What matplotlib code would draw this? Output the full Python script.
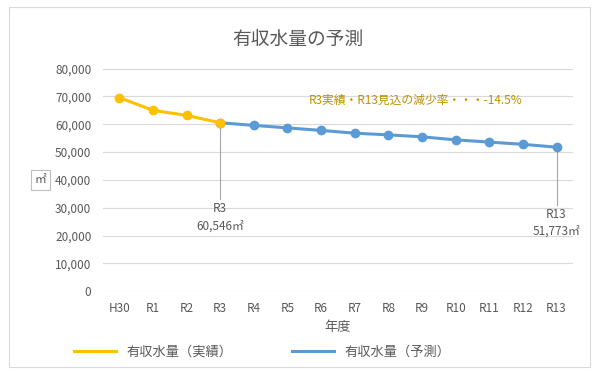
import matplotlib
matplotlib.use("Agg")
import matplotlib.pyplot as plt
from matplotlib.patches import Rectangle
from matplotlib.lines import Line2D

plt.rcParams['font.family'] = ['Noto Sans CJK JP', 'DejaVu Sans']

years = ["H30", "R1", "R2", "R3", "R4", "R5", "R6", "R7", "R8", "R9", "R10", "R11", "R12", "R13"]
actual = [69600, 65000, 63200, 60546]
forecast = [60546, 59600, 58700, 57800, 56800, 56200, 55500, 54400, 53600, 52800, 51773]

x_act = list(range(len(actual)))
x_fc = list(range(3, 3 + len(forecast)))

grey = "#595959"
yellow = "#FFC000"
blue = "#5B9BD5"

fig = plt.figure(figsize=(5.96, 3.71), dpi=100)
ax = fig.add_axes([0.172, 0.215, 0.79, 0.60])

ax.plot(x_fc, forecast, color=blue, lw=2.2, marker="o", ms=6, zorder=3)
ax.plot(x_act, actual, color=yellow, lw=2.2, marker="o", ms=6, zorder=4)

ax.set_ylim(0, 80000)
ax.set_xlim(-0.5, len(years) - 0.5)
ax.set_yticks(range(0, 80001, 10000))
ax.set_yticklabels([f"{v:,}" for v in range(0, 80001, 10000)])
ax.set_xticks(range(len(years)))
ax.set_xticklabels(years)
ax.grid(axis="y", color="#d9d9d9", lw=0.8)
ax.set_axisbelow(True)
for s in ax.spines.values():
    s.set_visible(False)
ax.tick_params(length=0, colors=grey, labelsize=8.5, pad=8)
ax.set_xlabel("年度", color=grey, fontsize=9.5, labelpad=4)

# callouts
ax.plot([3, 3], [actual[-1], 33000], color="#a6a6a6", lw=0.8, zorder=2)
ax.text(3, 32000, "R3\n60,546㎡", ha="center", va="top", color=grey, fontsize=8.5, linespacing=1.4)
ax.plot([13, 13], [forecast[-1], 31000], color="#a6a6a6", lw=0.8, zorder=2)
ax.text(13, 30000, "R13\n51,773㎡", ha="center", va="top", color=grey, fontsize=8.5, linespacing=1.4)

ax.text(8.8, 68500, "R3実績・R13見込の減少率・・・-14.5%", ha="center", va="center",
        color="#BF9000", fontsize=8.5)

fig.text(0.5, 0.895, "有収水量の予測", ha="center", va="center", color=grey, fontsize=13.5)

# unit box
fig.text(0.068, 0.515, "㎡", ha="center", va="center", color=grey, fontsize=8.5,
         bbox=dict(boxstyle="square,pad=0.3", fc="white", ec="#bfbfbf", lw=0.8))

# chart border
fig.patches.append(Rectangle((0.015, 0.01), 0.975, 0.97, transform=fig.transFigure,
                             fill=False, ec="#d9d9d9", lw=0.8))

leg_handles = [Line2D([], [], color=yellow, lw=2.2), Line2D([], [], color=blue, lw=2.2)]
fig.legend(leg_handles, ["有収水量（実績）", "有収水量（予測）"], loc="center", ncol=2,
           bbox_to_anchor=(0.44, 0.05), frameon=False, fontsize=9.5, labelcolor=grey,
           handlelength=3.2, columnspacing=4.5)

fig.savefig("out.png", dpi=100)
